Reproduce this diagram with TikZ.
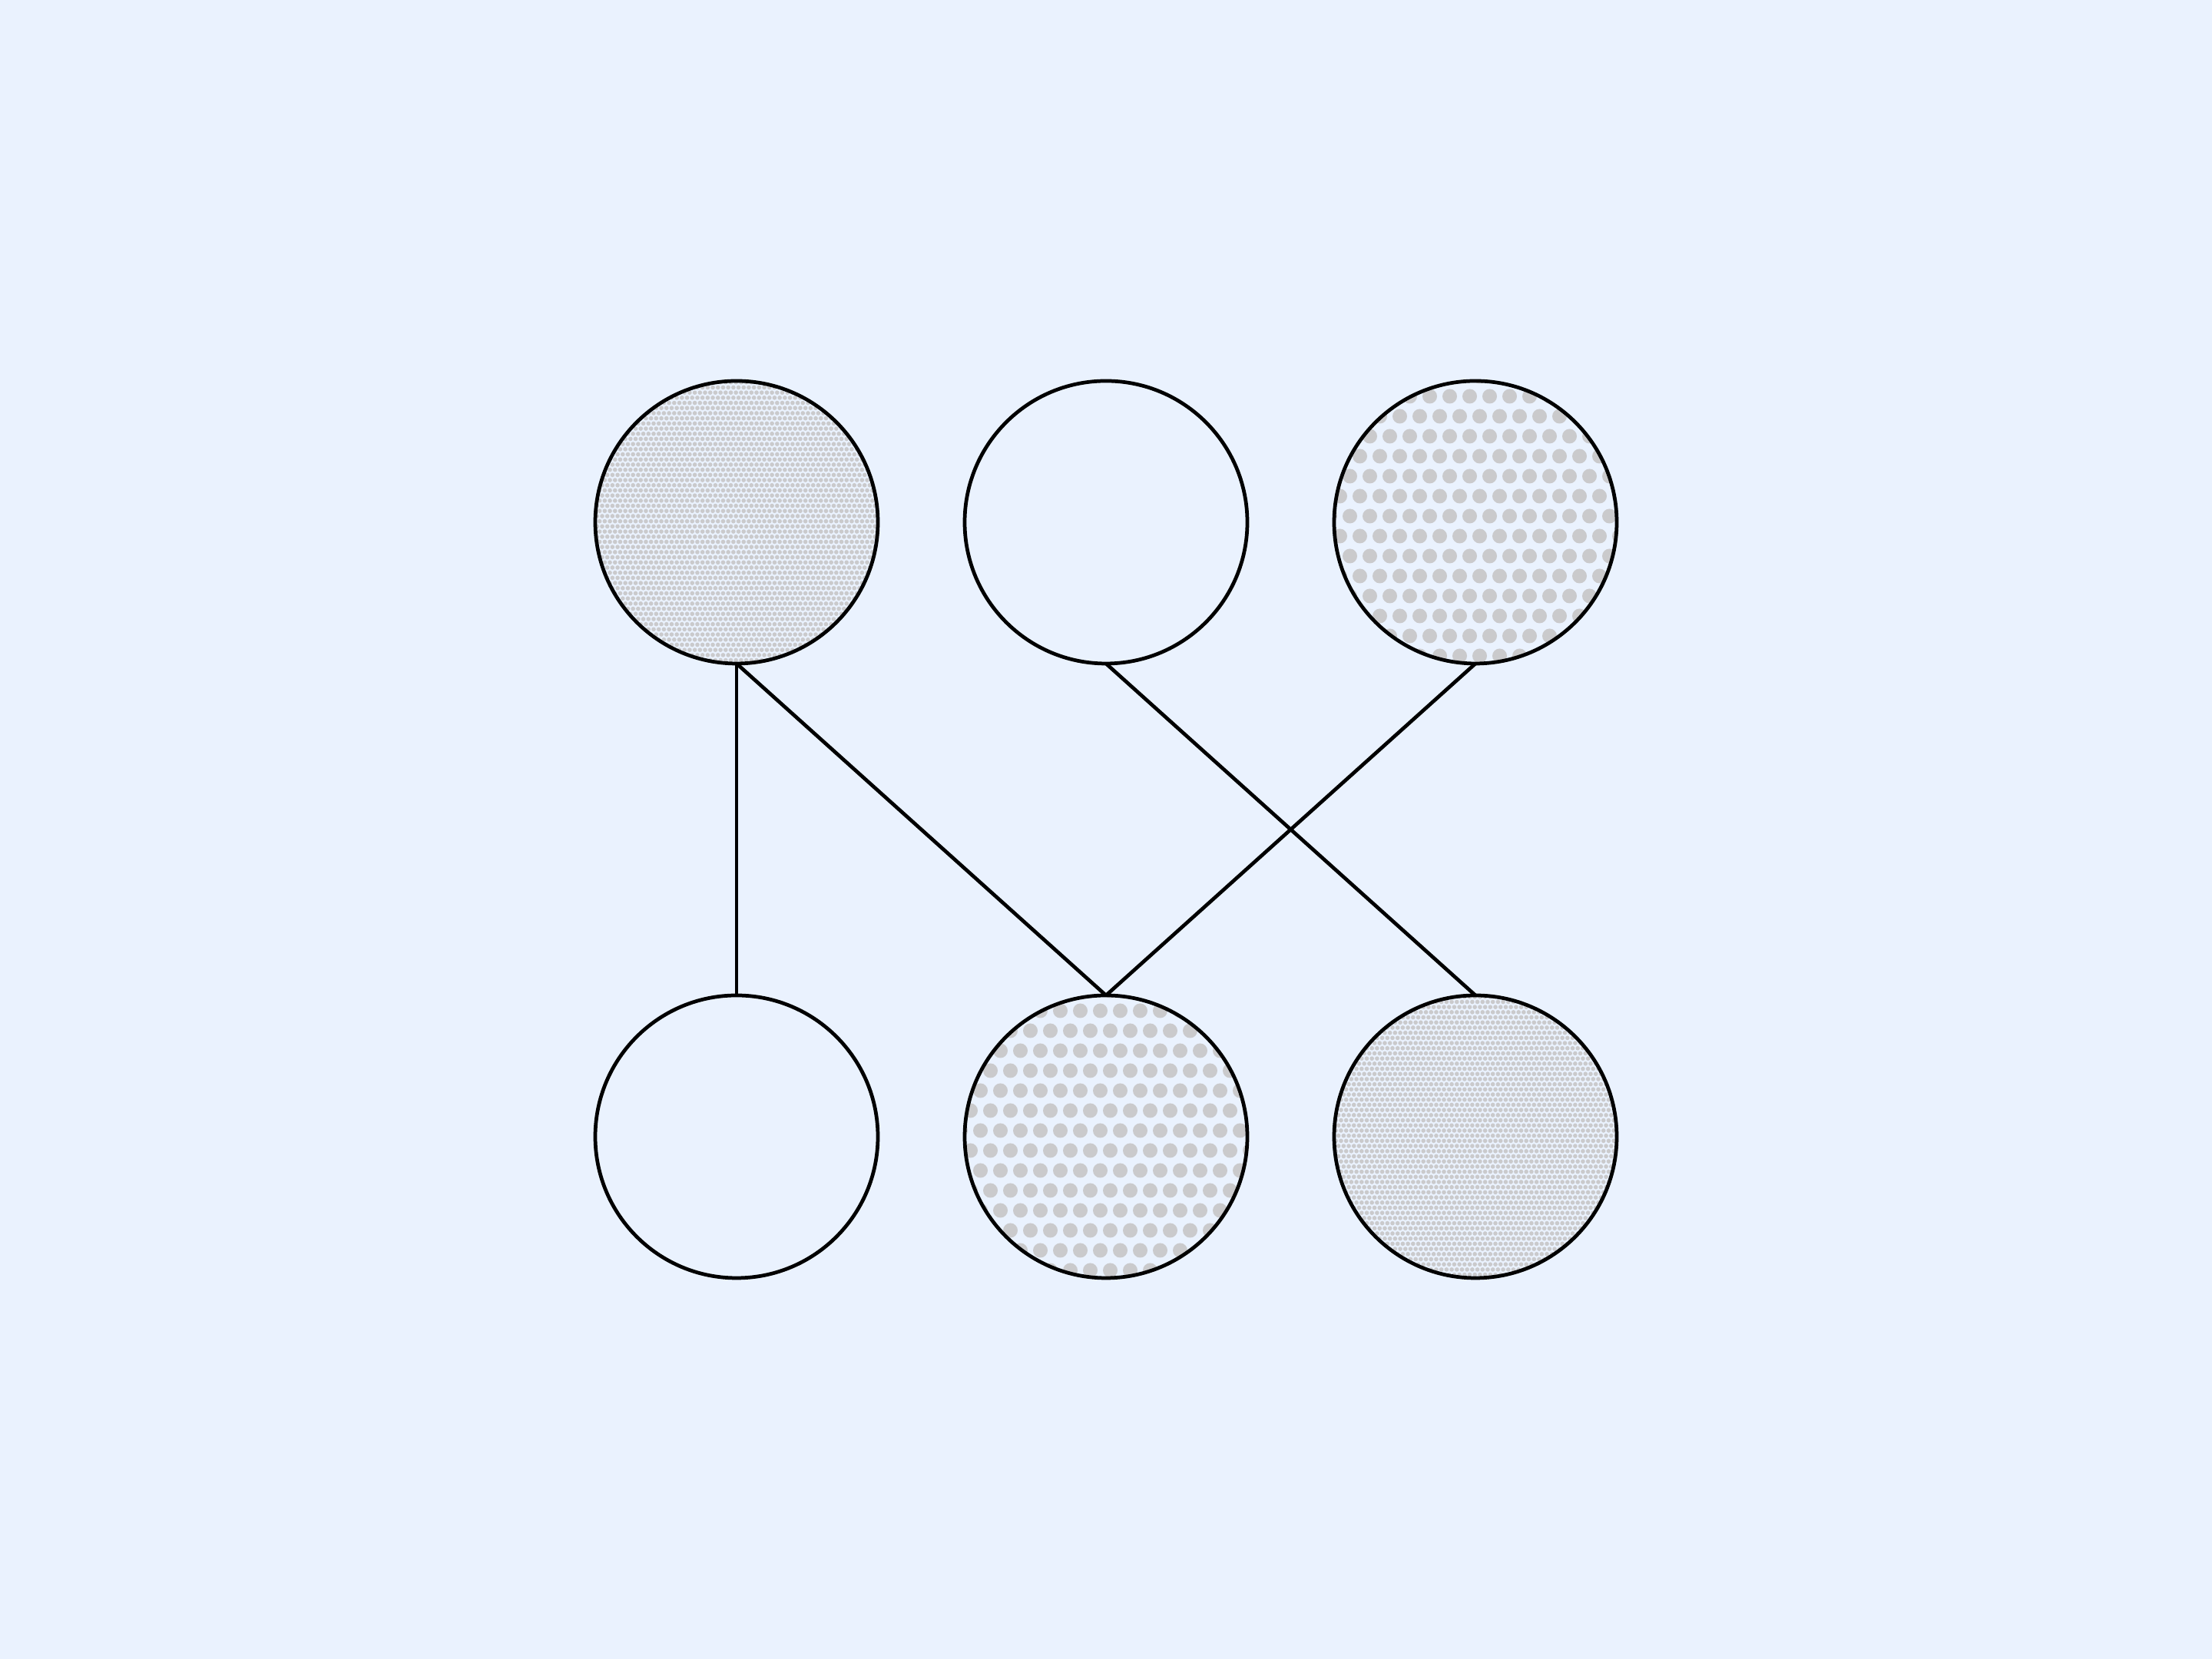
\documentclass[tikz,border=0pt]{standalone}
\usetikzlibrary{positioning}
\definecolor{bgblue}{RGB}{234,242,254}
\definecolor{dotgray}{RGB}{202,202,204}
\newcommand{\dotgrid}[3]{%
  \foreach \j in {-#1,...,#1}
    \foreach \i in {-#1,...,#1}
      \fill[dotgray] ([shift={({(\i+0.5*mod(\j+100,2))*#2-0.075},{\j*#2+0.08})}]path picture bounding box.center) circle (#3);}

\begin{document}
\begin{tikzpicture}[ball/.style={circle,draw,line width=1.35pt,minimum size=3.68cm,inner sep=0pt,outer sep=0pt},
    coarse/.style={ball,path picture={\dotgrid{8}{0.26}{0.095}}},
    fine/.style={ball,path picture={\dotgrid{28}{0.067}{0.028}}},
    link/.style={line width=1.35pt}]
        \fill[bgblue] (0,0) rectangle (28.8,21.6);

        \node[fine] (tl) at (9.59,14.8) {};
        \node[right=1.13cm of tl, ball] (tm) {};
        \node[right=1.13cm of tm, coarse] (tr) {};

        \node[below=4.32cm of tl, ball] (bl) {};
        \node[right=1.13cm of bl, coarse] (bm) {};
        \node[right=1.13cm of bm, fine] (br) {};

        \draw[link] (tl.south) -- (bl.north);
        \draw[link] (tl.south) -- (bm.north);
        \draw[link] (tm.south) -- (br.north);
        \draw[link] (tr.south) -- (bm.north);

    \end{tikzpicture}
\end{document}
